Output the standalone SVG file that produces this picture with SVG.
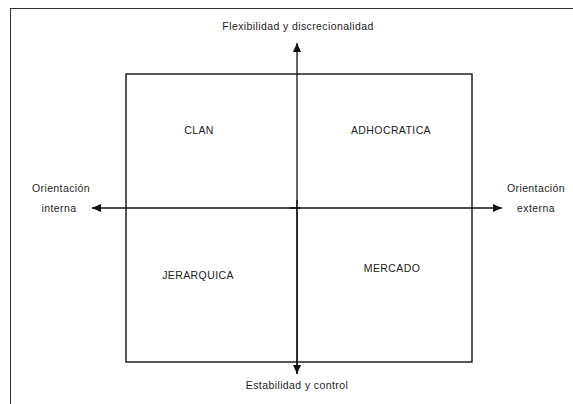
<svg xmlns="http://www.w3.org/2000/svg" width="573" height="404" viewBox="0 0 573 404">
<style>
text{font-family:"Liberation Sans",Arial,sans-serif;font-size:10.5px;letter-spacing:0.4px;fill:#222;text-anchor:middle}
.ax{stroke:#111;stroke-width:1.3;fill:none}
</style>
<defs>
<marker id="ah" markerWidth="10" markerHeight="8" refX="9" refY="4" orient="auto" markerUnits="userSpaceOnUse">
<path d="M0,0 L9,4 L0,8 Z" fill="#111"/>
</marker>
</defs>
<rect width="573" height="404" fill="#fff"/>
<rect id="frame" x="10.5" y="8.5" width="580" height="420" fill="none" stroke="#333" stroke-width="1"/>
<g id="square"><rect x="126" y="74" width="346" height="288" fill="none" stroke="#111" stroke-width="1.4"/></g>
<g id="connectors">
<line class="ax" x1="297" y1="374" x2="297" y2="43" marker-end="url(#ah)"/>
<line class="ax" x1="297" y1="200" x2="297" y2="374" marker-end="url(#ah)"/>
<line class="ax" x1="300" y1="208" x2="92" y2="208" marker-end="url(#ah)"/>
<line class="ax" x1="290" y1="208" x2="502" y2="208" marker-end="url(#ah)"/>
</g>
<g id="top"><text x="298" y="30">Flexibilidad y discrecionalidad</text></g>
<g id="bottom"><text x="297" y="389">Estabilidad y control</text></g>
<g id="left"><text x="61" y="192">Orientación</text><text x="59" y="212">interna</text></g>
<g id="right"><text x="536" y="192">Orientación</text><text x="536" y="212">externa</text></g>
<g id="clan"><text x="199" y="134">CLAN</text></g>
<g id="adhocratica"><text x="391" y="134">ADHOCRATICA</text></g>
<g id="jerarquica"><text x="198" y="279">JERARQUICA</text></g>
<g id="mercado"><text x="392" y="272">MERCADO</text></g>
</svg>
